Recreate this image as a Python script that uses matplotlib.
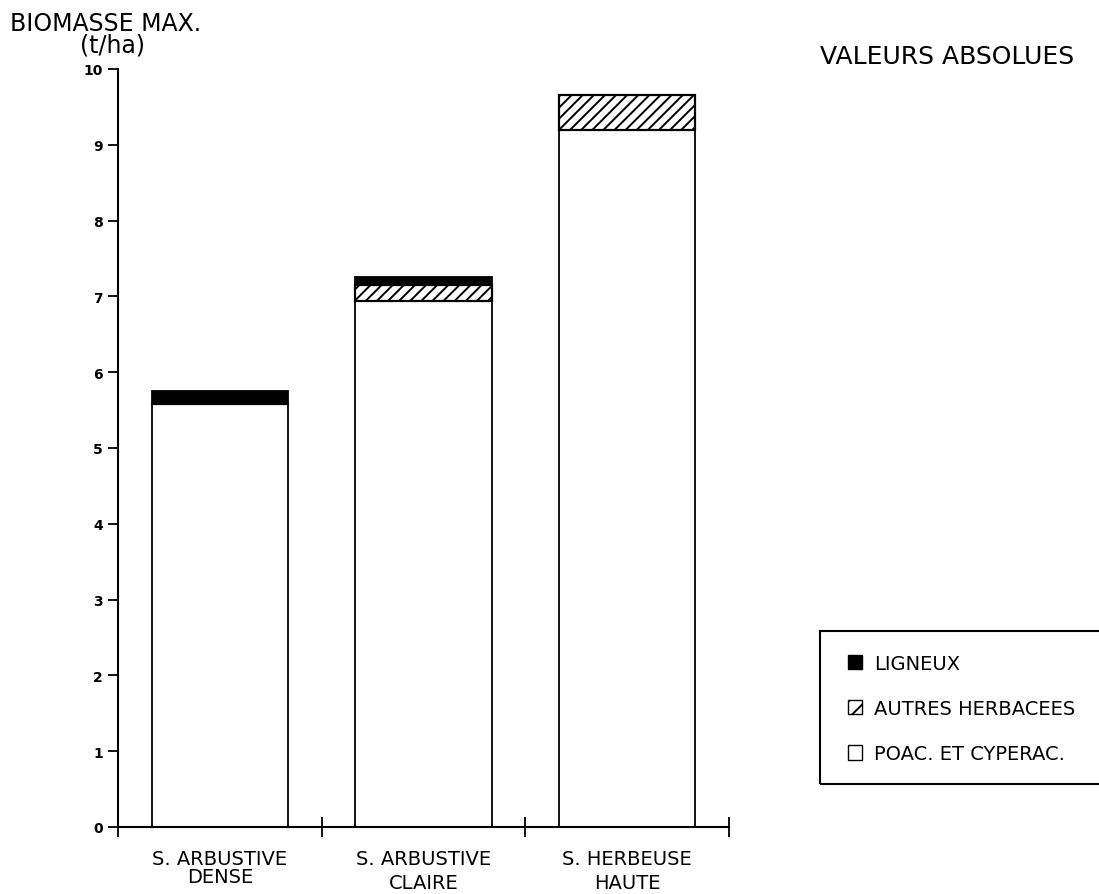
import matplotlib
matplotlib.use("Agg")
import matplotlib.pyplot as plt
from matplotlib.patches import Patch, Rectangle

# Biomasse maximale (t/ha) par type de savane
categories = ["S. ARBUSTIVE\nDENSE", "S. ARBUSTIVE\nCLAIRE", "S. HERBEUSE\nHAUTE"]
poac_cyperac = [5.58, 6.94, 9.19]
autres_herbacees = [0.0, 0.21, 0.47]
ligneux = [0.17, 0.10, 0.0]
y_ticks = [0, 1, 2, 3, 4, 5, 6, 7, 8, 9, 10]

plt.rcParams["font.family"] = ["DejaVu Sans"]
plt.rcParams["hatch.linewidth"] = 1.4

fig = plt.figure(figsize=(10.99, 8.95), dpi=100)
ax = fig.add_axes([118 / 1099, 67 / 895, 611 / 1099, 758 / 895])

x = [i + 0.5 for i in range(len(categories))]
w = 0.67
bottom2 = poac_cyperac
bottom3 = [a + b for a, b in zip(poac_cyperac, autres_herbacees)]

ax.bar(x, poac_cyperac, width=w, color="white", edgecolor="black", linewidth=1.3)
ax.bar(x, autres_herbacees, width=w, bottom=bottom2, color="white",
       edgecolor="black", hatch="///", linewidth=1.6)
ax.bar(x, ligneux, width=w, bottom=bottom3, color="black",
       edgecolor="black", linewidth=1.3)

ax.set_xlim(0, 3)
ax.set_ylim(0, 10)
for s in ("top", "right"):
    ax.spines[s].set_visible(False)
for s in ("left", "bottom"):
    ax.spines[s].set_linewidth(1.5)

ax.set_yticks(y_ticks)
ax.set_yticklabels([str(v) for v in y_ticks], fontsize=10, fontweight="bold")
ax.tick_params(axis="y", direction="out", length=7, width=1.3, pad=4)

ax.set_xticks([0, 1, 2, 3])
ax.set_xticklabels([])
ax.tick_params(axis="x", which="major", direction="inout", length=14, width=1.3)
ax.set_xticks(x, minor=True)
ax.set_xticklabels(categories, minor=True, fontsize=14)
ax.tick_params(axis="x", which="minor", length=0, pad=16)
for lbl, ls in zip(ax.get_xticklabels(minor=True), [0.9, 1.35, 1.35]):
    lbl.set_linespacing(ls)

fig.text(10 / 1099, 1 - 12 / 895, "BIOMASSE MAX.", fontsize=17,
         ha="left", va="top")
fig.text(112 / 1099, 1 - 34 / 895, "(t/ha)", fontsize=17,
         ha="center", va="top")
fig.text(820 / 1099, 1 - 57 / 895, "VALEURS ABSOLUES", fontsize=18,
         ha="left", va="center")

# Légende encadrée
fig.add_artist(Rectangle((820 / 1099, 1 - 785 / 895), 300 / 1099, 153 / 895,
                         transform=fig.transFigure, fill=False,
                         edgecolor="black", linewidth=1.5, clip_on=False))
handles = [
    Patch(facecolor="black", edgecolor="black", label="LIGNEUX"),
    Patch(facecolor="white", edgecolor="black", hatch="//", label="AUTRES HERBACEES"),
    Patch(facecolor="white", edgecolor="black", label="POAC. ET CYPERAC."),
]
fig.legend(handles=handles, loc="upper left",
           bbox_to_anchor=(838 / 1099, 1 - 645 / 895), frameon=False,
           fontsize=14, handlelength=0.75, handleheight=0.75,
           handletextpad=0.6, labelspacing=1.35, borderpad=0)

fig.savefig("out.png", dpi=100)
